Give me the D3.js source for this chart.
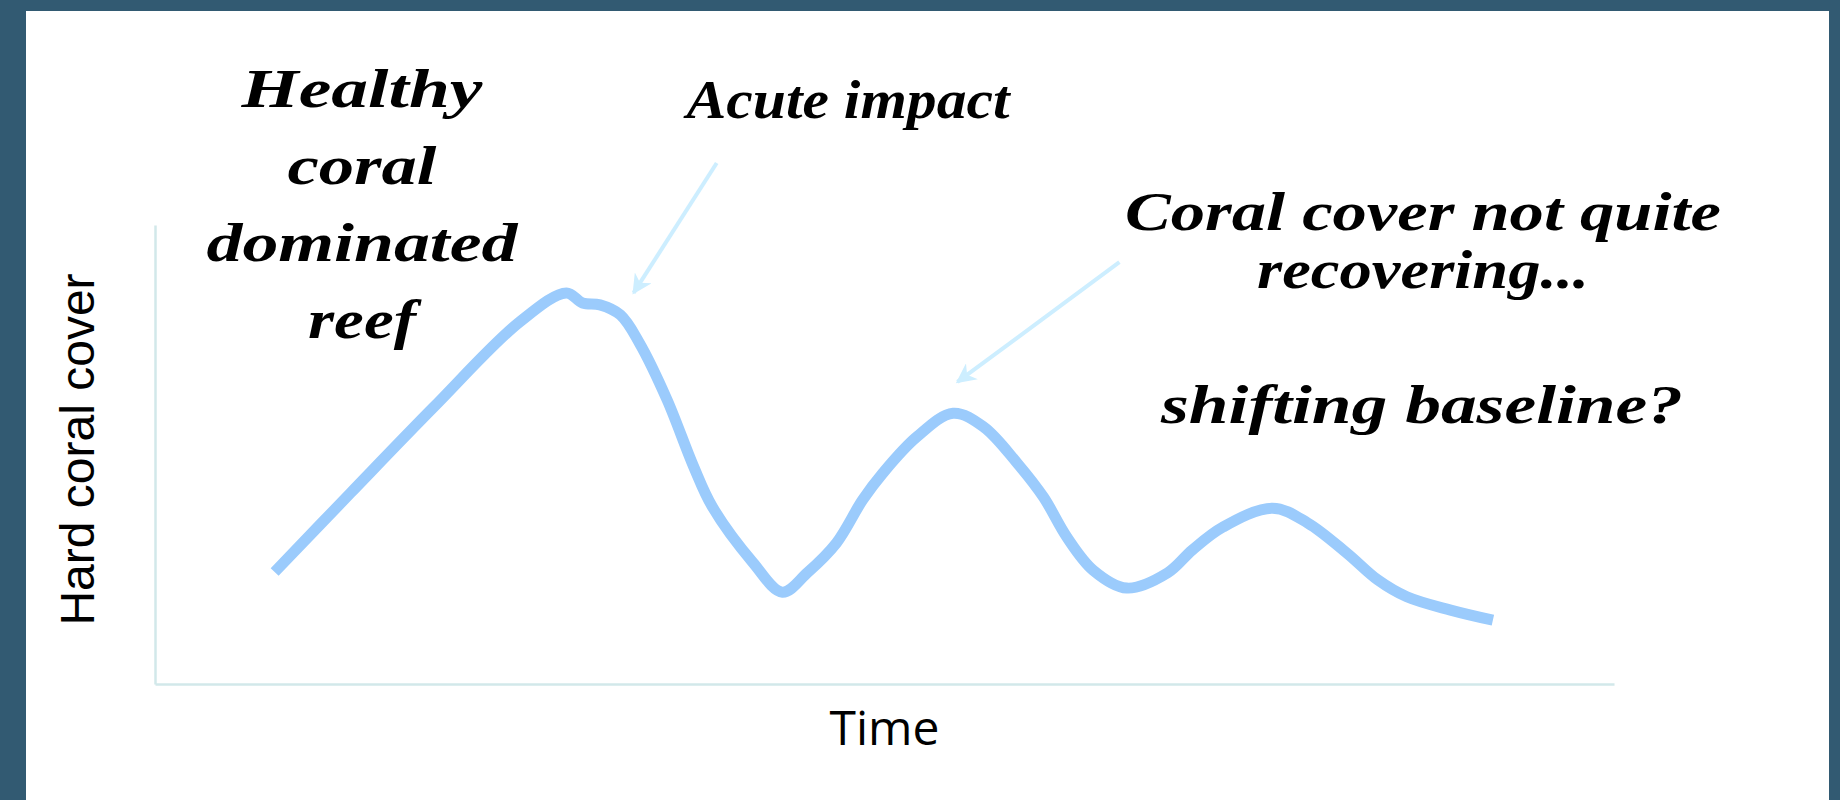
<!DOCTYPE html>
<html>
<head>
<meta charset="utf-8">
<script src="https://cdnjs.cloudflare.com/ajax/libs/d3/7.8.5/d3.min.js"></script>
<style>
  html, body { margin: 0; padding: 0; background: #325a72; }
  svg { display: block; }
</style>
</head>
<body>
<div id="chart"></div>
<script>
// time (arbitrary units) and hard coral cover (%)
const timeSteps = [8.2, 13.4, 19.1, 25.0, 28.2, 29.3, 30.5, 31.9, 33.2, 35.1, 36.9, 38.2, 41.0, 43.0,
  44.7, 46.7, 48.5, 49.9, 52.2, 54.7, 56.8, 59.1, 60.9, 62.5, 64.3, 66.6, 69.4, 71.1, 73.2,
  76.6, 79.0, 81.7, 83.8, 85.8, 88.8, 91.7]
const coverValues = [24.4, 41.6, 60.3, 78.9, 85.2, 83.0, 82.6, 80.4, 74.3, 61.9, 47.5, 38.6, 26.4, 20.0,
  24.2, 30.7, 40.1, 46.0, 53.8, 59.0, 56.0, 48.1, 40.7, 32.0, 24.8, 20.9, 24.2, 29.2, 34.2,
  38.3, 35.1, 28.5, 22.7, 19.0, 16.1, 13.9]

// annotation arrows: [time, cover] of tail and tip
const arrowFrom = [[38.5, 113.5], [66.1, 91.9]]
const arrowTo = [[32.8, 85.2], [55.0, 65.8]]

const notes = [
  { lines: ['Healthy', 'coral', 'dominated', 'reef'], x: 362, y: 107, step: 77, widths: [241, 149, 311, 108] },
  { lines: ['Acute impact'], x: 848, y: 118, step: 0, widths: [323] },
  { lines: ['Coral cover not quite', 'recovering...'], x: 1423, y: 230, step: 58, widths: [596, 332] },
  { lines: ['shifting baseline?'], x: 1422, y: 423, step: 0, widths: [522] }
]

const width = 1840
const height = 800
const margin = { left: 155, right: 1614, top: 225, bottom: 684 }

const svg = d3.select('#chart').append('svg')
  .attr('width', width)
  .attr('height', height)

svg.append('rect')
  .attr('x', 26).attr('y', 11)
  .attr('width', 1803).attr('height', height - 11)
  .attr('fill', '#ffffff')

const x = d3.scaleLinear().domain([0, 100]).range([margin.left, margin.right])
const y = d3.scaleLinear().domain([0, 100]).range([margin.bottom, margin.top])

// bare axes, no ticks
const axisColor = '#d2e8ea'
svg.append('g')
  .attr('transform', `translate(0,${margin.bottom})`)
  .call(d3.axisBottom(x).ticks(0).tickSize(0).tickFormat(''))
  .call(g => g.select('.domain').attr('stroke', axisColor).attr('stroke-width', 2.5))
svg.append('g')
  .attr('transform', `translate(${margin.left},0)`)
  .call(d3.axisLeft(y).ticks(0).tickSize(0).tickFormat(''))
  .call(g => g.select('.domain').attr('stroke', axisColor).attr('stroke-width', 2.5))

svg.append('text')
  .text('Time')
  .attr('x', (margin.left + margin.right) / 2)
  .attr('y', 745)
  .attr('text-anchor', 'middle')
  .attr('font-family', '"Open Sans", sans-serif')
  .attr('font-size', 48)
  .attr('fill', '#000')

svg.append('text')
  .text('Hard coral cover')
  .attr('transform', `translate(94,${(margin.top + margin.bottom) / 2 - 5}) rotate(-90)`)
  .attr('text-anchor', 'middle')
  .attr('font-family', '"Liberation Sans", Arial, sans-serif')
  .attr('font-size', 48)
  .attr('fill', '#000')

const points = timeSteps.map((t, i) => [t, coverValues[i]])
const line = d3.line()
  .x(d => x(d[0]))
  .y(d => y(d[1]))
  .curve(d3.curveCatmullRom.alpha(0.5))

svg.append('path')
  .datum(points)
  .attr('d', line)
  .attr('fill', 'none')
  .attr('stroke', '#9bcbfc')
  .attr('stroke-width', 11)
  .attr('stroke-linejoin', 'round')

// arrows
const arrowColor = '#cdeeff'
svg.append('defs').append('marker')
  .attr('id', 'head')
  .attr('viewBox', '0 0 10 10')
  .attr('refX', 9).attr('refY', 5)
  .attr('markerWidth', 6).attr('markerHeight', 5)
  .attr('markerUnits', 'strokeWidth')
  .attr('orient', 'auto')
  .append('path')
  .attr('d', 'M0,0 L10,5 L0,10 L3,5 Z')
  .attr('fill', arrowColor)

svg.selectAll('.arrow')
  .data(arrowFrom.map((f, i) => [f, arrowTo[i]]))
  .join('line')
  .attr('class', 'arrow')
  .attr('x1', d => x(d[0][0])).attr('y1', d => y(d[0][1]))
  .attr('x2', d => x(d[1][0])).attr('y2', d => y(d[1][1]))
  .attr('stroke', arrowColor)
  .attr('stroke-width', 4)
  .attr('marker-end', 'url(#head)')

// handwritten notes
notes.forEach(n => {
  n.lines.forEach((txt, i) => {
    svg.append('text')
      .text(txt)
      .attr('x', n.x - n.widths[i] / 2)
      .attr('y', n.y + i * n.step)
      .attr('textLength', n.widths[i])
      .attr('lengthAdjust', 'spacingAndGlyphs')
      .attr('font-family', '"Liberation Serif", serif')
      .attr('font-style', 'italic')
      .attr('font-weight', 'bold')
      .attr('font-size', 54)
      .attr('fill', '#000')
  })
})
</script>
</body>
</html>
